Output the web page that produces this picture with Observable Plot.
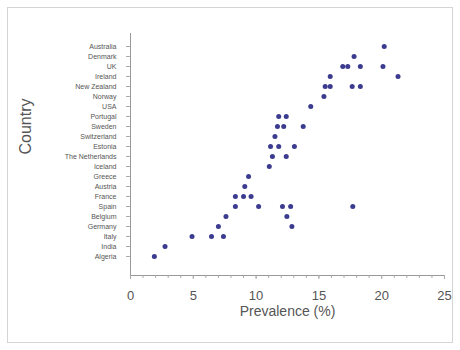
<!DOCTYPE html>
<html>
<head>
<meta charset="utf-8">
<script src="https://cdn.jsdelivr.net/npm/d3@7"></script>
<script src="https://cdn.jsdelivr.net/npm/@observablehq/plot@0.6"></script>
<style>
  html, body { margin: 0; padding: 0; background: #fff; }
  #chart svg { display: block; outline: 1px solid #d4d4d4; outline-offset: -8px; }
</style>
</head>
<body>
<div id="chart"></div>
<script>
const countries = ["Australia","Denmark","UK","Ireland","New Zealand","Norway","USA","Portugal","Sweden","Switzerland","Estonia","The Netherlands","Iceland","Greece","Austria","France","Spain","Belgium","Germany","Italy","India","Algeria"];
const prevalence = [
  [20.2],
  [17.8],
  [16.9, 17.3, 18.3, 20.1],
  [15.9, 21.3],
  [15.5, 15.9, 17.65, 18.3],
  [15.4],
  [14.35],
  [11.8, 12.4],
  [11.7, 12.2, 13.75],
  [11.5],
  [11.15, 11.8, 13.05],
  [11.3, 12.4],
  [11.05],
  [9.4],
  [9.1],
  [8.35, 9.0, 9.6],
  [8.35, 10.2, 12.1, 12.75, 17.7],
  [7.6, 12.45],
  [7.0, 12.85],
  [4.9, 6.45, 7.4],
  [2.75],
  [1.9]
];
const majorTicks = [0, 5, 10, 15, 20, 25];
const minorTicks = d3.range(0, 26, 1);
const xTitle = "Prevalence (%)";
const yTitle = "Country";

const rows = countries.flatMap((c, i) => prevalence[i].map(v => ({country: c, value: v})));

const chart = Plot.plot({
  width: 460,
  height: 350,
  marginLeft: 130,
  marginRight: 16,
  marginTop: 33,
  marginBottom: 75,
  style: {fontFamily: "'Liberation Sans', Arial, sans-serif", background: "#fff", color: "#555", overflow: "visible"},
  x: {domain: [0, 25]},
  y: {type: "point", domain: countries, padding: 0, insetTop: 4, insetBottom: 11},
  marks: [
    Plot.frame({anchor: "left", stroke: "#999"}),
    Plot.frame({anchor: "bottom", stroke: "#999"}),
    Plot.axisY({tickSize: 4, tickPadding: 10, fontSize: 7, label: null, stroke: "#aaa", fill: "#555"}),
    Plot.axisX({ticks: minorTicks, tickSize: 3, text: null, label: null, stroke: "#aaa"}),
    Plot.axisX({ticks: majorTicks, tickSize: 4, tickPadding: 11, fontSize: 13, label: null, stroke: "#aaa", fill: "#555"}),
    Plot.text([xTitle], {frameAnchor: "bottom", dy: 40, fontSize: 14, fill: "#555"}),
    Plot.text([yTitle], {frameAnchor: "left", dx: -105, rotate: -90, fontSize: 16, fill: "#555"}),
    Plot.dot(rows, {x: "value", y: "country", r: 2.5, fill: "#3b3b8f", stroke: "none"})
  ]
});
document.getElementById("chart").append(chart);
</script>
</body>
</html>
